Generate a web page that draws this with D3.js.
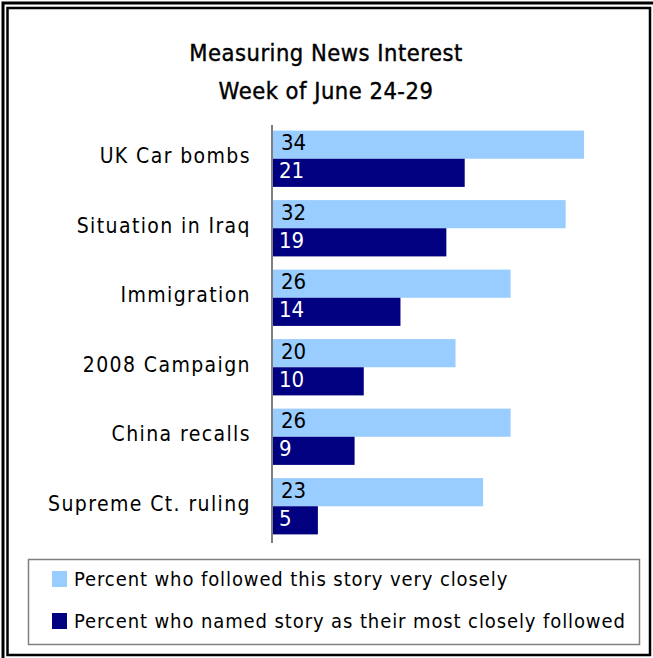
<!DOCTYPE html>
<html>
<head>
<meta charset="utf-8">
<script src="https://cdn.jsdelivr.net/npm/d3@7"></script>
<style>
  body { margin: 0; background: #fff; }
  svg text { font-family: "DejaVu Sans Condensed", "DejaVu Sans", sans-serif; }
</style>
</head>
<body>
<div id="chart"></div>
<script>
var categories = ["UK Car bombs", "Situation in Iraq", "Immigration", "2008 Campaign", "China recalls", "Supreme Ct. ruling"];
var veryClosely = [34, 32, 26, 20, 26, 23];
var mostFollowed = [21, 19, 14, 10, 9, 5];
var seriesNames = ["Percent who followed this story very closely", "Percent who named story as their most closely followed"];
var colors = ["#99ccff", "#000080"];

var width = 653, height = 658;

var svg = d3.select("#chart").append("svg")
    .attr("width", width)
    .attr("height", height);

// double frame
svg.append("rect")
    .attr("x", 3).attr("y", 3)
    .attr("width", 655).attr("height", 660)
    .attr("fill", "none").attr("stroke", "#000").attr("stroke-width", 3);
svg.append("rect")
    .attr("x", 7.5).attr("y", 8)
    .attr("width", 642.5).attr("height", 647)
    .attr("fill", "none").attr("stroke", "#000").attr("stroke-width", 2.5);

// title
var title = svg.append("g")
    .style("font-size", "23.5px")
    .style("letter-spacing", "0.5px")
    .style("stroke", "#000")
    .style("stroke-width", "0.4px");
title.append("text")
    .attr("x", 326).attr("y", 61)
    .attr("text-anchor", "middle")
    .text("Measuring News Interest");
title.append("text")
    .attr("x", 326).attr("y", 99)
    .attr("text-anchor", "middle")
    .text("Week of June 24-29");

var x = d3.scaleLinear()
    .domain([0, 34])
    .range([272, 584]);

var y = d3.scaleBand()
    .domain(categories)
    .range([124, 541])
    .paddingInner(0.19)
    .paddingOuter(0.095);

var barH = y.bandwidth() / 2;

var groups = svg.selectAll(".group")
    .data(categories)
  .enter().append("g")
    .attr("class", "group")
    .attr("transform", function(d) { return "translate(0," + y(d) + ")"; });

groups.append("rect")
    .attr("x", x(0))
    .attr("y", 0)
    .attr("width", function(d, i) { return x(veryClosely[i]) - x(0); })
    .attr("height", barH)
    .attr("fill", colors[0]);

groups.append("rect")
    .attr("x", x(0))
    .attr("y", barH)
    .attr("width", function(d, i) { return x(mostFollowed[i]) - x(0); })
    .attr("height", barH)
    .attr("fill", colors[1]);

groups.append("text")
    .attr("x", x(0) + 9)
    .attr("y", 19.5)
    .style("font-size", "22px")
    .attr("fill", "#000")
    .text(function(d, i) { return veryClosely[i]; });

groups.append("text")
    .attr("x", x(0) + 7)
    .attr("y", barH + 19.5)
    .style("font-size", "22px")
    .attr("fill", "#fff")
    .text(function(d, i) { return mostFollowed[i]; });

// category labels
groups.append("text")
    .attr("x", 251)
    .attr("y", y.bandwidth() / 2 + 4.5)
    .attr("text-anchor", "end")
    .style("font-size", "21px")
    .style("letter-spacing", "1.4px")
    .text(function(d) { return d; });

// axis line
svg.append("line")
    .attr("x1", 272).attr("x2", 272)
    .attr("y1", 125).attr("y2", 543)
    .attr("stroke", "#808080").attr("stroke-width", 2);

// legend
svg.append("rect")
    .attr("x", 28.5).attr("y", 559.5)
    .attr("width", 611).attr("height", 85)
    .attr("fill", "none").attr("stroke", "#808080").attr("stroke-width", 1.5);

var legend = svg.selectAll(".legend")
    .data(seriesNames)
  .enter().append("g")
    .attr("class", "legend")
    .attr("transform", function(d, i) { return "translate(52," + (571 + i * 42) + ")"; });

legend.append("rect")
    .attr("width", 15).attr("height", 16)
    .attr("fill", function(d, i) { return colors[i]; });

legend.append("text")
    .attr("x", 22).attr("y", 14.5)
    .style("font-size", "20px")
    .style("letter-spacing", "0.9px")
    .text(function(d) { return d; });
</script>
</body>
</html>
